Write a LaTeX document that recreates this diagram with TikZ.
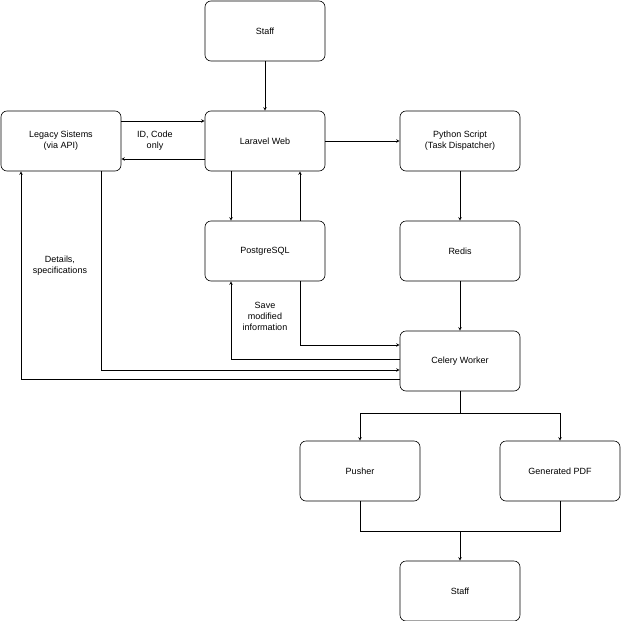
\documentclass[tikz,border=0pt]{standalone}
\usepackage{fontspec}
\setmainfont{Liberation Sans}
\usetikzlibrary{positioning}
\begin{document}
\begin{tikzpicture}[x=1pt,y=-1pt,font=\fontsize{9}{11}\selectfont,
  box/.style={draw, rounded corners=6pt, minimum width=120pt, minimum height=60pt, align=center, fill=white},
  lbl/.style={align=center, fill=white, inner sep=1pt},
  >=stealth, line width=0.6pt]
\useasboundingbox (0,0) rectangle (621,621);
\node[box] (staff1) at (265,31) {Staff};
\node[box] (legacy) at (61,141) {Legacy Sistems\\(via API)};
\node[box] (laravel) at (265,141) {Laravel Web};
\node[box] (python) at (460,141) {Python Script\\(Task Dispatcher)};
\node[box] (pg) at (265,251) {PostgreSQL};
\node[box] (redis) at (460,251) {Redis};
\node[box] (celery) at (460,361) {Celery Worker};
\node[box] (pusher) at (360,471) {Pusher};
\node[box] (pdf) at (560,471) {Generated PDF};
\node[box] (staff2) at (460,591) {Staff};
\coordinate (split) at (460,413);
\coordinate (join) at (460,531);

\draw[->] (staff1) -- (laravel);
\draw[->] (legacy.east |- 0,121) -- (laravel.west |- 0,121);
\draw[->] (laravel.west |- 0,159) -- (legacy.east |- 0,159);
\node[lbl] at (155,141) {ID, Code\\only};
\draw[->] (laravel) -- (python);
\draw[->] (laravel.south -| 231,0) -- (pg.north -| 231,0);
\draw[->] (pg.north -| 300,0) -- (laravel.south -| 300,0);
\draw[->] (python) -- (redis);
\draw[->] (redis) -- (celery);
\draw[->] (pg.south -| 300,0) |- (celery.west |- 0,345);
\draw[->] (celery.west |- 0,359) -| (pg.south -| 231,0);
\node[lbl] at (265,316) {Save\\modified\\information};
\draw[->] (legacy.south -| 101,0) |- (celery.west |- 0,370);
\draw[->] (celery.west |- 0,379) -| (legacy.south -| 21,0);
\node[lbl] at (60,266) {Details,\\specifications};
\draw (celery) -- (split);
\draw[->] (split) -| (pusher);
\draw[->] (split) -| (pdf);
\draw (pusher) |- (join);
\draw (pdf) |- (join);
\draw[->] (join) -- (staff2);
\end{tikzpicture}
\end{document}
